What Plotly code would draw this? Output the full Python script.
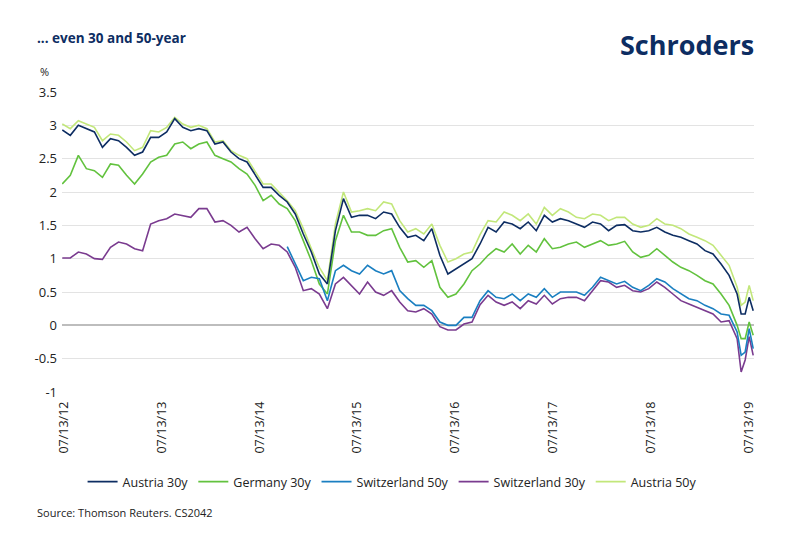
import pandas as pd
import plotly.graph_objects as go

# sampling dates: roughly monthly, then half-monthly over the 2019 drop
dates = list(pd.date_range("2012-07-06", periods=85, freq="30D")) + \
        list(pd.date_range("2019-06-15", periods=4, freq="15D"))

tick_dates = ["2012-07-13", "2013-07-13", "2014-07-13", "2015-07-13",
              "2016-07-13", "2017-07-13", "2018-07-13", "2019-07-13"]
tick_text = ["07/13/12", "07/13/13", "07/13/14", "07/13/15",
             "07/13/16", "07/13/17", "07/13/18", "07/13/19"]

austria_30y = [
    2.93, 2.85, 3.0, 2.95, 2.9, 2.67, 2.8, 2.77, 2.67, 2.55, 2.6, 2.82, 2.82, 2.9, 3.1, 2.97, 2.92, 2.95,
    2.92, 2.72, 2.75, 2.6, 2.5, 2.45, 2.27, 2.07, 2.07, 1.95, 1.85, 1.67, 1.37, 1.1, 0.77, 0.62, 1.42, 1.9,
    1.62, 1.65, 1.65, 1.6, 1.7, 1.67, 1.47, 1.32, 1.35, 1.27, 1.45, 1.05, 0.77, 0.85, 0.92, 1.0, 1.22,
    1.47, 1.4, 1.55, 1.52, 1.45, 1.55, 1.42, 1.65, 1.55, 1.6, 1.57, 1.52, 1.47, 1.55, 1.52, 1.42, 1.5, 1.51,
    1.42, 1.4, 1.42, 1.47, 1.4, 1.35, 1.32, 1.27, 1.22, 1.12, 1.07, 0.92, 0.75, 0.47,
    0.17, 0.17, 0.42, 0.22,
]
germany_30y = [
    2.12, 2.25, 2.55, 2.35, 2.32, 2.22, 2.42, 2.4, 2.25, 2.12, 2.27, 2.45, 2.52, 2.55, 2.72, 2.75, 2.65, 2.72,
    2.75, 2.55, 2.5, 2.45, 2.35, 2.27, 2.1, 1.87, 1.95, 1.82, 1.75, 1.57, 1.27, 0.97, 0.62, 0.47, 1.27, 1.65,
    1.4, 1.4, 1.35, 1.35, 1.42, 1.45, 1.17, 0.95, 0.97, 0.87, 0.97, 0.57, 0.42, 0.47, 0.62, 0.82, 0.92,
    1.05, 1.15, 1.1, 1.22, 1.07, 1.2, 1.1, 1.3, 1.15, 1.17, 1.22, 1.25, 1.17, 1.22, 1.27, 1.2, 1.22, 1.26,
    1.1, 1.02, 1.05, 1.15, 1.05, 0.95, 0.87, 0.82, 0.75, 0.67, 0.62, 0.47, 0.3, 0.0,
    -0.2, -0.2, 0.05, -0.15,
]
switzerland_50y = [None] * 28 + [
    1.18, 0.92, 0.67, 0.72, 0.7, 0.37, 0.82, 0.9,
    0.82, 0.77, 0.9, 0.82, 0.77, 0.82, 0.52, 0.4, 0.3, 0.3, 0.22, 0.05, 0.0, 0.0, 0.12, 0.12, 0.37,
    0.52, 0.42, 0.4, 0.47, 0.37, 0.47, 0.42, 0.55, 0.42, 0.5, 0.5, 0.5, 0.45, 0.57, 0.72, 0.67, 0.62, 0.66,
    0.57, 0.52, 0.6, 0.7, 0.65, 0.55, 0.47, 0.4, 0.37, 0.3, 0.25, 0.17, 0.15, -0.1,
    -0.45, -0.4, -0.05, -0.35,
]
switzerland_30y = [
    1.01, 1.01, 1.1, 1.07, 1.0, 0.99, 1.17, 1.25, 1.22, 1.15, 1.12, 1.52, 1.57, 1.6, 1.67, 1.65, 1.62, 1.75,
    1.75, 1.55, 1.57, 1.5, 1.4, 1.47, 1.3, 1.15, 1.22, 1.2, 1.1, 0.87, 0.52, 0.55, 0.47, 0.25, 0.62, 0.72,
    0.6, 0.47, 0.65, 0.5, 0.45, 0.52, 0.35, 0.22, 0.2, 0.25, 0.17, -0.02, -0.07, -0.07, 0.02, 0.05, 0.31,
    0.45, 0.35, 0.3, 0.35, 0.25, 0.37, 0.32, 0.45, 0.32, 0.4, 0.42, 0.42, 0.37, 0.52, 0.67, 0.65, 0.57, 0.6,
    0.52, 0.5, 0.55, 0.65, 0.57, 0.47, 0.37, 0.32, 0.27, 0.22, 0.17, 0.05, 0.07, -0.2,
    -0.7, -0.52, -0.17, -0.45,
]
austria_50y = [
    3.02, 2.95, 3.07, 3.02, 2.97, 2.77, 2.87, 2.85, 2.75, 2.62, 2.67, 2.92, 2.9, 2.97, 3.12, 3.02, 2.97, 3.0,
    2.95, 2.75, 2.77, 2.62, 2.55, 2.5, 2.32, 2.12, 2.12, 2.0, 1.87, 1.72, 1.45, 1.15, 0.87, 0.67, 1.52, 2.0,
    1.7, 1.72, 1.75, 1.72, 1.85, 1.82, 1.57, 1.4, 1.45, 1.37, 1.52, 1.2, 0.95, 1.0, 1.07, 1.1, 1.36,
    1.57, 1.55, 1.7, 1.65, 1.57, 1.67, 1.52, 1.77, 1.65, 1.75, 1.7, 1.62, 1.6, 1.67, 1.65, 1.57, 1.62, 1.62,
    1.52, 1.47, 1.5, 1.6, 1.52, 1.5, 1.45, 1.37, 1.32, 1.27, 1.2, 1.05, 0.9, 0.57,
    0.3, 0.35, 0.6, 0.37,
]

series = [
    ("Austria 30y", austria_30y, "#0d2d62"),
    ("Germany 30y", germany_30y, "#62c23e"),
    ("Switzerland 50y", switzerland_50y, "#1a7fc1"),
    ("Switzerland 30y", switzerland_30y, "#7a3b8f"),
    ("Austria 50y", austria_50y, "#c2e77a"),
]

fig = go.Figure()

# draw back to front so the navy line sits on top of the light green
draw_order = [4, 1, 3, 2, 0]
for i in draw_order:
    name, vals, color = series[i]
    fig.add_trace(go.Scatter(
        x=dates, y=vals, name=name, mode="lines",
        line=dict(color=color, width=1.6),
        legendrank=i + 1,
    ))

# page has an 8px body margin, so the figure is 8px smaller each way
fig.update_layout(
    width=789,
    height=528,
    margin=dict(l=54, r=43, t=84, b=144),
    paper_bgcolor="white",
    plot_bgcolor="white",
    font=dict(family="Open Sans", color="#222222", size=12),
    showlegend=True,
    legend=dict(
        orientation="h",
        x=0.477, xanchor="center",
        y=-0.30, yanchor="middle",
        font=dict(size=12.5, color="#222222"),
        itemwidth=30,
        traceorder="normal",
    ),
    xaxis=dict(
        range=["2012-07-05", "2019-08-02"],
        tickmode="array",
        tickvals=tick_dates,
        ticktext=tick_text,
        tickangle=-90,
        tickfont=dict(size=12.5, color="#222222"),
        showgrid=False,
        zeroline=False,
        showline=False,
        ticks="",
        ticklabelstandoff=6,
    ),
    yaxis=dict(
        range=[-1, 3.5],
        tickmode="array",
        tickvals=[-1, -0.5, 0, 0.5, 1, 1.5, 2, 2.5, 3, 3.5],
        ticktext=["-1", "-0.5", "0", "0.5", "1", "1.5", "2", "2.5", "3", "3.5"],
        tickfont=dict(size=13, color="#222222"),
        showgrid=True,
        gridcolor="#e3e3e3",
        gridwidth=1,
        zeroline=True,
        zerolinecolor="#bdbdbd",
        zerolinewidth=1.5,
        showline=False,
        ticks="",
        ticklabelstandoff=4,
    ),
)

fig.add_annotation(
    text="<b>... even 30 and 50-year</b>", xref="paper", yref="paper",
    x=-0.039, y=1.18, xanchor="left", yanchor="middle", showarrow=False,
    font=dict(size=13.5, color="#0d2d62"),
)
fig.add_annotation(
    text="<b>Schroders</b>", xref="paper", yref="paper",
    x=1.003, y=1.157, xanchor="right", yanchor="middle", showarrow=False,
    font=dict(size=27, color="#0d2d62", family="Open Sans"),
)
fig.add_annotation(
    text="%", xref="paper", yref="paper",
    x=-0.026, y=1.067, xanchor="center", yanchor="middle", showarrow=False,
    font=dict(size=11, color="#222222"),
)
fig.add_annotation(
    text="Source: Thomson Reuters. CS2042", xref="paper", yref="paper",
    x=-0.039, y=-0.403, xanchor="left", yanchor="middle", showarrow=False,
    font=dict(size=11, color="#222222"),
)

fig.write_html("out.html")
